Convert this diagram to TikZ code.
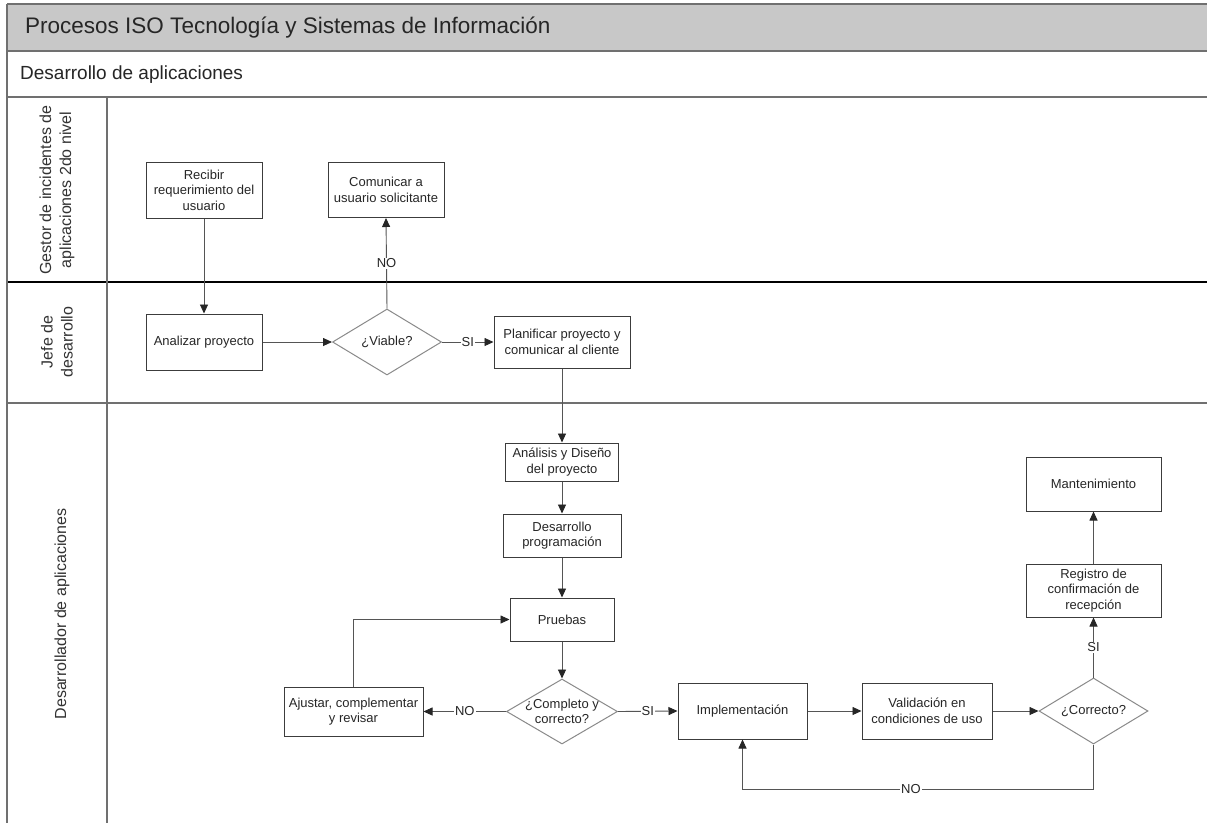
\documentclass[tikz,border=0pt]{standalone}
\usepackage{fontspec}
\setmainfont{Liberation Sans}
\usetikzlibrary{shapes.geometric,arrows.meta}
\definecolor{boxline}{HTML}{3C3C3C}
\definecolor{decline}{HTML}{8A8A8A}
\definecolor{flowline}{HTML}{555555}
\definecolor{laneline}{HTML}{707070}
\definecolor{titlefill}{HTML}{C8C8C8}
\begin{document}
\begin{tikzpicture}[x=1pt,y=-1pt,
  proc/.style={draw=boxline,line width=1pt,fill=white,inner sep=2pt,align=center,
    font=\fontsize{13}{15.5}\selectfont,text=black!85},
  dec/.style={diamond,draw=decline,line width=1pt,fill=white,inner sep=0pt,
    minimum width=110pt,minimum height=66pt},
  dectext/.style={align=center,inner sep=0pt,font=\fontsize{13}{15.5}\selectfont,text=black!85},
  flow/.style={draw=flowline,line width=0.9pt,-{Triangle[length=9pt,width=8pt,color=black!85]}},
  lbl/.style={fill=white,inner sep=1pt,font=\fontsize{13}{15}\selectfont,text=black!85},
  lane/.style={draw=laneline,line width=1.2pt},
  lanetext/.style={rotate=90,align=center,font=\fontsize{16}{20}\selectfont,text=black!80}
]
\useasboundingbox[fill=white] (0,0) rectangle (1207,823);

% header bands
\fill[titlefill] (7,4) rectangle (1207,51);
\node[anchor=west,inner sep=0pt,font=\fontsize{22.5}{26}\selectfont,text=black!85] (title) at (25,27.5) {Procesos ISO Tecnología y Sistemas de Información};
\node[anchor=west,inner sep=0pt,font=\fontsize{19}{22}\selectfont,text=black!85] (sub) at (20,75) {Desarrollo de aplicaciones};

% swimlane grid
\draw[lane] (7,4) -- (1207,4);
\draw[lane] (7,51) -- (1207,51);
\draw[lane] (7,97) -- (1207,97);
\draw[line width=1.6pt,black] (7,282) -- (1207,282);
\draw[lane] (7,403) -- (1207,403);
\draw[lane] (7,4) -- (7,823);
\draw[lane] (107,97) -- (107,823);

% lane titles
\node[lanetext] (l1) at (57,190) {Gestor de incidentes de\\aplicaciones 2do nivel};
\node[lanetext] (l2) at (57,342) {Jefe de\\desarrollo};
\node[lanetext] (l3) at (62,614) {Desarrollador de aplicaciones};

% steps
\node[proc,minimum width=116pt,minimum height=56pt] (rec) at (204,190) {Recibir\\requerimiento del\\usuario};
\node[proc,minimum width=116pt,minimum height=55pt] (com) at (386,190) {Comunicar a\\usuario solicitante};
\node[proc,minimum width=116pt,minimum height=56pt] (ana) at (204,342) {Analizar proyecto};
\node[dec,minimum width=109pt,minimum height=66pt] (via) at (387,342) {};
\node[dectext] (via-t) at (via) {¿Viable?};
\node[proc,minimum width=136pt,minimum height=52pt] (pla) at (562,342) {Planificar proyecto y\\comunicar al cliente};
\node[proc,minimum width=113pt,minimum height=38pt] (dis) at (562,462) {Análisis y Diseño\\del proyecto};
\node[proc,minimum width=118pt,minimum height=43pt] (des) at (562,535.5) {Desarrollo\\programación};
\node[proc,minimum width=104pt,minimum height=43pt] (pru) at (562,619.5) {Pruebas};
\node[dec,minimum width=111pt,minimum height=65pt] (cyc) at (562,711.5) {};
\node[dectext] (cyc-t) at (cyc) {¿Completo y\\correcto?};
\node[proc,minimum width=139pt,minimum height=49pt] (aju) at (353.5,711.5) {Ajustar, complementar\\y revisar};
\node[proc,minimum width=129pt,minimum height=56pt] (imp) at (742.5,711) {Implementación};
\node[proc,minimum width=130pt,minimum height=56pt] (val) at (927,711) {Validación en\\condiciones de uso};
\node[dec,minimum width=109pt,minimum height=66pt] (cor) at (1093.5,711) {};
\node[dectext] (cor-t) at (cor) {¿Correcto?};
\node[proc,minimum width=135pt,minimum height=53pt] (reg) at (1093.5,590.5) {Registro de\\confirmación de\\recepción};
\node[proc,minimum width=135pt,minimum height=54pt] (man) at (1093.5,484) {Mantenimiento};
\coordinate (nob) at (1093.5,789);

% connectors
\draw[flow] (rec) -- (ana);
\draw[flow] (ana) -- (via.west);
\draw[flow] (via.north) -- node[lbl]{NO} (com.south);
\draw[flow] (via.east) -- node[lbl]{SI} (pla.west);
\draw[flow] (pla) -- (dis);
\draw[flow] (dis) -- (des);
\draw[flow] (des) -- (pru);
\draw[flow] (pru) -- (cyc.north);
\draw[flow] (cyc.west) -- node[lbl]{NO} (aju.east);
\draw[flow] (cyc.east) -- node[lbl]{SI} (imp.west);
\draw[flow] (aju.north) |- (pru.west);
\draw[flow] (imp) -- (val);
\draw[flow] (val) -- (cor.west);
\draw[flow] (cor.north) -- node[lbl]{SI} (reg.south);
\draw[flow] (reg) -- (man);
\draw[flow] (cor.south) -- (nob) -| node[lbl,pos=0.26]{NO} (imp.south);
\end{tikzpicture}
\end{document}
